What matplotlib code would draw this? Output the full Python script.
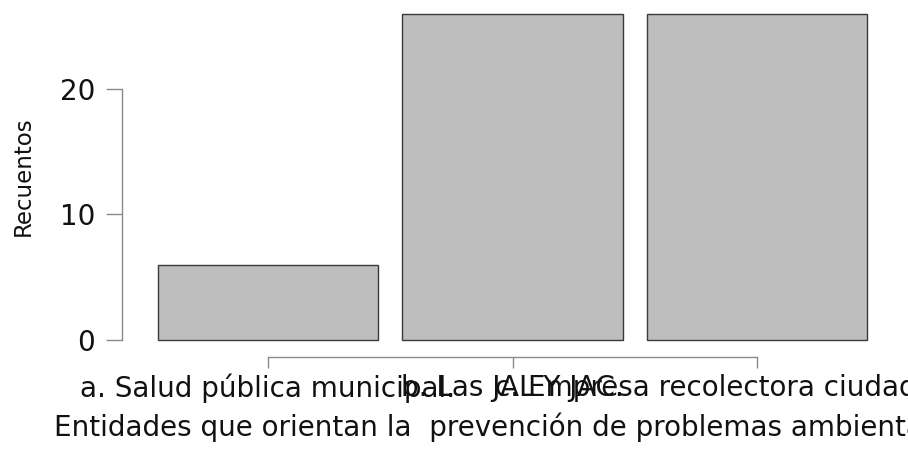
import matplotlib

matplotlib.use("Agg")
import matplotlib.pyplot as plt

# counts per entity
categories = [
    "a. Salud pública municipal.",
    "b. Las JAL Y JAC.",
    "c. Empresa recolectora ciudad limpia.",
]
counts = [6, 26, 26]
y_ticks = [0, 10, 20]

x_title = "Entidades que orientan la  prevención de problemas ambientales"
y_title = "Recuentos"

W, H = 908, 451
plt.rcParams["font.family"] = ["DejaVu Sans"]

fig = plt.figure(figsize=(W / 100, H / 100), dpi=100)
# axes box in pixel terms: y axis line at x=122, x axis line at y=357
ax = fig.add_axes([122 / W, (H - 357) / H, (W - 122) / W, 357 / H])

positions = list(range(len(counts)))
ax.bar(positions, counts, width=0.9, color="#bebebe", edgecolor="#3a3a3a", linewidth=1.0)

px_per_unit = (340 - 89) / 20
ax.set_ylim(-17 / px_per_unit, 340 / px_per_unit)
ax.set_xlim((122 - 268) / 244.5, (W - 268) / 244.5)

for side in ["top", "right"]:
    ax.spines[side].set_visible(False)
ax.spines["left"].set_bounds(0, 20)
ax.spines["bottom"].set_bounds(0, len(counts) - 1)
for side in ["left", "bottom"]:
    ax.spines[side].set_color("#8a8a8a")
    ax.spines[side].set_linewidth(1.0)

ax.set_yticks(y_ticks)
ax.set_yticklabels([str(v) for v in y_ticks], fontsize=20, color="#111111")
ax.set_xticks(positions)
ax.set_xticklabels(categories, fontsize=20, color="#111111")
ax.tick_params(axis="y", length=11.5, width=1.0, color="#8a8a8a", pad=8)
ax.tick_params(axis="x", length=8, width=1.0, color="#8a8a8a", pad=4)

ax.set_xlabel(x_title, fontsize=20, color="#111111")
ax.xaxis.set_label_coords((508 - 122) / (W - 122), (357 - 412) / 357)
ax.set_ylabel(y_title, fontsize=16.5, color="#111111", va="center")
ax.yaxis.set_label_coords((23 - 122) / (W - 122), (357 - 176) / 357)

fig.savefig("out.png", dpi=100)
plt.close(fig)
